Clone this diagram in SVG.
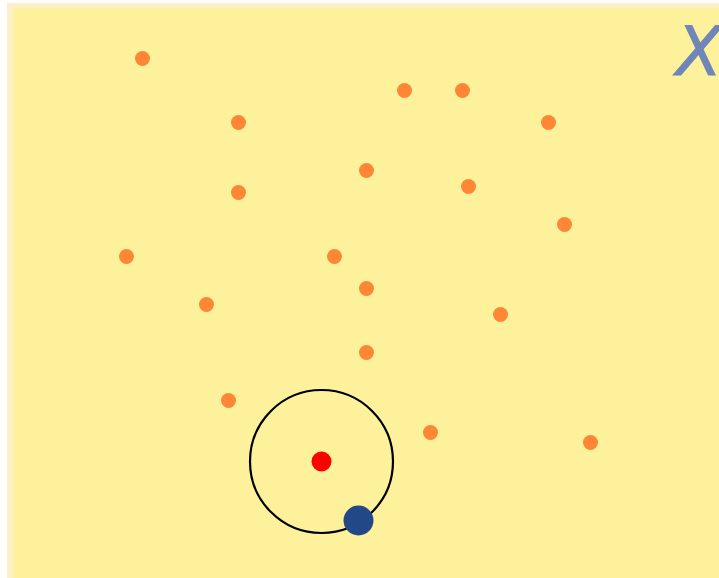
<svg xmlns="http://www.w3.org/2000/svg" width="719" height="578" viewBox="0 0 719 578">
<style>
.p{fill:#fe8737}
</style>
<rect x="7" y="3" width="712" height="575" fill="#fdf0c8"/>
<rect x="13" y="8" width="706" height="570" fill="#fef19b"/>
<text x="676" y="75" font-family="DejaVu Sans, sans-serif" font-style="italic" font-size="67" fill="#6f86b8" stroke="#6f86b8" stroke-width="1">X</text>
<g id="points">
<circle class="p" cx="142.5" cy="58.5" r="7.5"/>
<circle class="p" cx="238.5" cy="122.5" r="7.5"/>
<circle class="p" cx="404.5" cy="90.5" r="7.5"/>
<circle class="p" cx="462.5" cy="90.5" r="7.5"/>
<circle class="p" cx="548.5" cy="122.5" r="7.5"/>
<circle class="p" cx="238.5" cy="192.5" r="7.5"/>
<circle class="p" cx="366.5" cy="170.5" r="7.5"/>
<circle class="p" cx="468.5" cy="186.5" r="7.5"/>
<circle class="p" cx="564.5" cy="224.5" r="7.5"/>
<circle class="p" cx="126.5" cy="256.5" r="7.5"/>
<circle class="p" cx="334.5" cy="256.5" r="7.5"/>
<circle class="p" cx="366.5" cy="288.5" r="7.5"/>
<circle class="p" cx="206.5" cy="304.5" r="7.5"/>
<circle class="p" cx="500.5" cy="314.5" r="7.5"/>
<circle class="p" cx="366.5" cy="352.5" r="7.5"/>
<circle class="p" cx="228.5" cy="400.5" r="7.5"/>
<circle class="p" cx="430.5" cy="432.5" r="7.5"/>
<circle class="p" cx="590.5" cy="442.5" r="7.5"/>
</g>
<g id="ball">
<circle cx="321.5" cy="461.5" r="71.5" fill="none" stroke="#000" stroke-width="2.2"/>
<circle cx="321.5" cy="461.5" r="10" fill="#ff0000"/>
<circle cx="358.5" cy="520.5" r="15" fill="#234887"/>
</g>
</svg>
